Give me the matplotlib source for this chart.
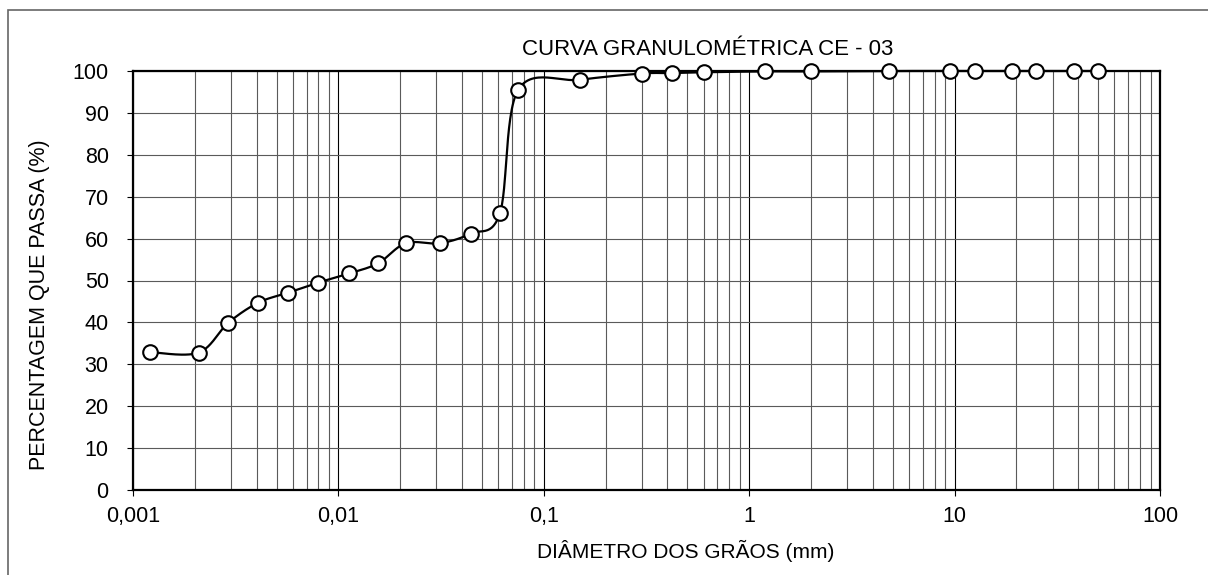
import numpy as np
import matplotlib.pyplot as plt
from matplotlib.patches import Rectangle

# grain size curve CE - 03
diametro = [0.00121, 0.00209, 0.00291, 0.00407, 0.0057, 0.00798, 0.0113, 0.0156,
            0.0213, 0.0312, 0.0440, 0.0611, 0.075, 0.15, 0.3, 0.42, 0.6, 1.2,
            2.0, 4.8, 9.5, 12.5, 19.0, 25.0, 38.0, 50.0]
passa = [32.9, 32.8, 39.9, 44.7, 47.1, 49.5, 51.7, 54.1,
         58.9, 58.9, 61.2, 66.0, 95.5, 97.9, 99.4, 99.5, 99.7, 99.9,
         99.9, 100, 100, 100, 100, 100, 100, 100]

xtick_vals = [0.001, 0.01, 0.1, 1, 10, 100]
xtick_labels = ["0,001", "0,01", "0,1", "1", "10", "100"]
ytick_vals = list(range(0, 101, 10))

plt.rcParams['font.family'] = ['Liberation Sans', 'DejaVu Sans']

W, H = 1208, 575


def excel_smooth(x, y, sx=205.5, sy=4.19, n=30):
    # Bezier smoothing like the spreadsheet "smoothed line", done in screen-like units
    u = np.log10(np.asarray(x)) * sx
    v = np.asarray(y, dtype=float) * sy
    pts = np.column_stack([u, v])
    pts_ext = np.vstack([pts[0], pts, pts[-1]])
    out = []
    t = np.linspace(0, 1, n)[:, None]
    for i in range(len(pts) - 1):
        p0, p1, p2, p3 = pts_ext[i], pts_ext[i + 1], pts_ext[i + 2], pts_ext[i + 3]
        c1 = p1 + (p2 - p0) / 6.0
        c2 = p2 - (p3 - p1) / 6.0
        seg = ((1 - t) ** 3) * p1 + 3 * ((1 - t) ** 2) * t * c1 + 3 * (1 - t) * t ** 2 * c2 + t ** 3 * p2
        out.append(seg if i == 0 else seg[1:])
    out = np.vstack(out)
    return 10 ** (out[:, 0] / sx), out[:, 1] / sy


fig = plt.figure(figsize=(W / 100, H / 100), dpi=100)
ax = fig.add_axes([133 / W, 1 - 490 / H, (1160 - 133) / W, (490 - 71) / H])

ax.set_xscale('log')
ax.set_xlim(0.001, 100)
ax.set_ylim(0, 100)

# grid: decades black, sub-decades gray, horizontal gray
ax.grid(True, which='minor', axis='x', color='#5a5a5a', lw=0.8)
ax.grid(True, which='major', axis='x', color='black', lw=0.8)
ax.grid(True, which='major', axis='y', color='#5a5a5a', lw=0.8)
ax.set_axisbelow(True)

xs, ys = excel_smooth(diametro, passa)
ax.plot(xs, ys, color='black', lw=1.6, clip_on=False, zorder=3)
ax.plot(diametro, passa, ls='none', marker='o', ms=10.5, mfc='white', mec='black',
        mew=1.5, clip_on=False, zorder=4)

ax.set_xticks(xtick_vals)
ax.set_xticklabels(xtick_labels)
ax.set_yticks(ytick_vals)
ax.tick_params(axis='both', which='major', direction='out', length=4.5, width=0.8,
               labelsize=15.5, colors='black')
ax.tick_params(axis='x', which='major', pad=7)
ax.tick_params(axis='y', which='major', pad=13)
ax.tick_params(axis='x', which='minor', length=0)

for s in ax.spines.values():
    s.set_linewidth(1.6)
    s.set_color('black')

# labels placed where the spreadsheet put them (not centred on the plot area)
fig.text(686 / W, 1 - 558 / H, "DIÂMETRO DOS GRÃOS (mm)", fontsize=15,
         ha='center', va='baseline')
fig.text(40 / W, 1 - 305 / H, "PERCENTAGEM QUE PASSA (%)", fontsize=15.5,
         rotation=90, ha='center', va='center')
fig.text(708 / W, 1 - 55 / H, "CURVA GRANULOMÉTRICA CE - 03", fontsize=16,
         ha='center', va='baseline')

# outer chart border (only top/left visible in the crop)
fig.add_artist(Rectangle((8 / W, -0.1), 1.2, 1 - 10 / H + 0.1,
                         transform=fig.transFigure, fill=False,
                         edgecolor='#666666', lw=1.2))

fig.savefig("out.png", dpi=100)
